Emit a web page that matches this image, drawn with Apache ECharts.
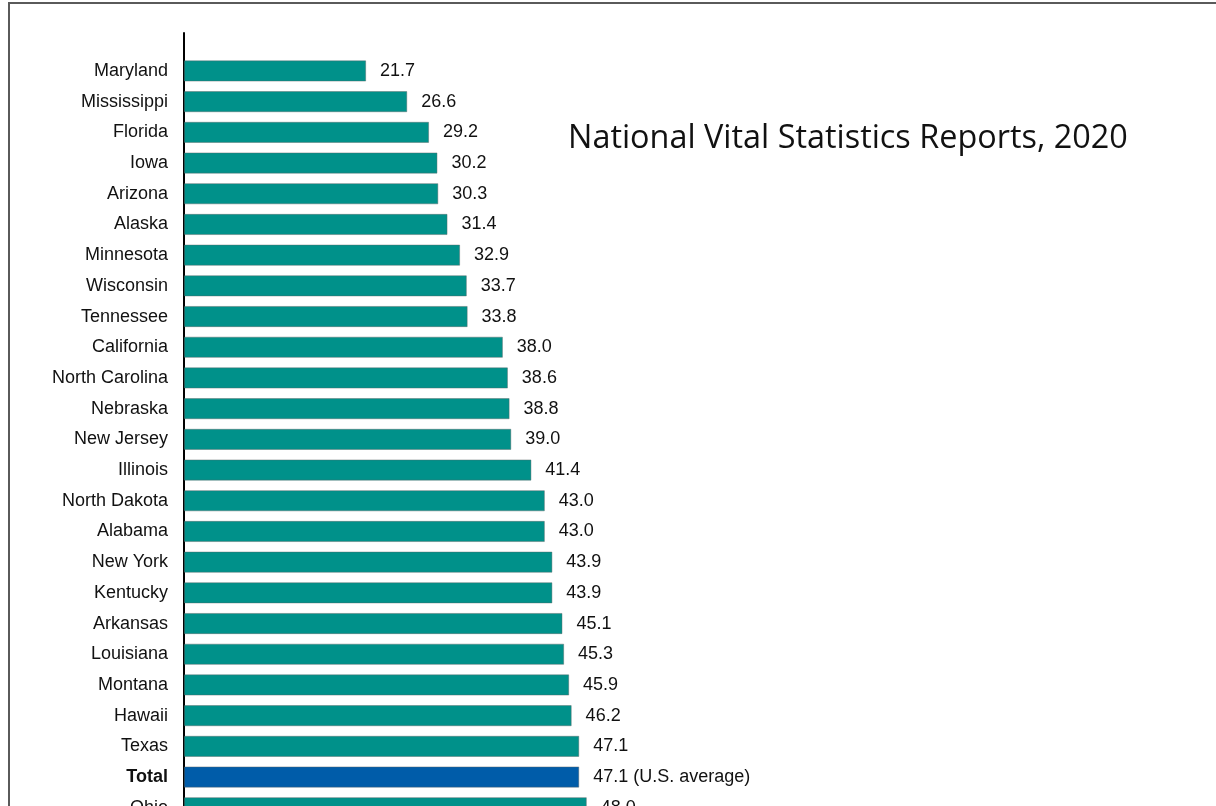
<!DOCTYPE html>
<html>
<head>
<meta charset="utf-8">
<title>Rates by state</title>
<script src="https://cdn.jsdelivr.net/npm/echarts@6/dist/echarts.min.js"></script>
<style>
  html, body { margin: 0; padding: 0; background: #fff; overflow: hidden; height: 806px; }
  #frame {
    position: absolute; left: 8px; top: 2px; width: 1400px; height: 1000px;
    border-left: 2px solid #5a5a5a; border-top: 2px solid #5a5a5a;
    box-sizing: border-box;
  }
  /* the plot runs past the bottom edge of the page */
  #chart { position: absolute; left: 0; top: 0; width: 1216px; height: 860px; }
</style>
</head>
<body>
<div id="frame"></div>
<div id="chart"></div>
<script>
// States in display order, top to bottom
const states = [
  'Maryland', 'Mississippi', 'Florida', 'Iowa', 'Arizona', 'Alaska',
  'Minnesota', 'Wisconsin', 'Tennessee', 'California', 'North Carolina',
  'Nebraska', 'New Jersey', 'Illinois', 'North Dakota', 'Alabama',
  'New York', 'Kentucky', 'Arkansas', 'Louisiana', 'Montana', 'Hawaii',
  'Texas', 'Total', 'Ohio'
];
const rates = [
  21.7, 26.6, 29.2, 30.2, 30.3, 31.4,
  32.9, 33.7, 33.8, 38.0, 38.6,
  38.8, 39.0, 41.4, 43.0, 43.0,
  43.9, 43.9, 45.1, 45.3, 45.9, 46.2,
  47.1, 47.1, 48.0
];
const totalName = 'Total';
const totalSuffix = ' (U.S. average)';
const titleText = 'National Vital Statistics Reports, 2020';

const TEAL = '#00918a';
const BLUE = '#005ca9';

const chart = echarts.init(document.getElementById('chart'), null, { renderer: 'canvas' });

const rowHeight = 30.7;
const gridTop = 55.6;
const gridHeight = rowHeight * states.length;

chart.setOption({
  backgroundColor: 'transparent',
  animation: false,
  title: {
    text: titleText,
    left: 563,
    top: 118,
    textStyle: {
      fontFamily: 'Open Sans',
      fontSize: 32.4,
      fontWeight: 'normal',
      color: '#111'
    }
  },
  grid: [
    { left: 184, right: 193, top: gridTop, height: gridHeight },
    // spine of the category axis, drawn taller than the bar area
    { left: 184, right: 193, top: 33, height: gridTop + gridHeight - 33 }
  ],
  xAxis: [
    { type: 'value', gridIndex: 0, min: 0, max: 100, show: false },
    { type: 'value', gridIndex: 1, min: 0, max: 100, show: false }
  ],
  yAxis: [
    {
      type: 'category',
      gridIndex: 0,
      data: states,
      inverse: true,
      axisLine: { show: false },
      axisTick: { show: false },
      axisLabel: {
        margin: 16,
        fontFamily: 'Liberation Sans',
        fontSize: 18,
        color: '#111',
        formatter: function (v) {
          return v === totalName ? '{b|' + v + '}' : v;
        },
        rich: {
          b: { fontFamily: 'Liberation Sans', fontSize: 18, fontWeight: 'bold', color: '#111' }
        }
      }
    },
    {
      type: 'value',
      gridIndex: 1,
      min: 0,
      max: 1,
      axisLine: { show: true, lineStyle: { color: '#000', width: 2 } },
      axisTick: { show: false },
      axisLabel: { show: false },
      splitLine: { show: false }
    }
  ],
  series: [
    {
      type: 'bar',
      xAxisIndex: 0,
      yAxisIndex: 0,
      barWidth: 21,
      data: states.map(function (s, i) {
        return {
          value: rates[i],
          itemStyle: { color: s === totalName ? BLUE : TEAL }
        };
      }),
      itemStyle: { borderColor: 'rgba(90,100,100,0.55)', borderWidth: 0.8 },
      label: {
        show: true,
        position: 'right',
        distance: 14,
        fontFamily: 'Liberation Sans',
        fontSize: 18,
        color: '#111',
        formatter: function (p) {
          const t = Number(p.value).toFixed(1);
          return p.name === totalName ? t + totalSuffix : t;
        }
      }
    }
  ]
});
</script>
</body>
</html>
